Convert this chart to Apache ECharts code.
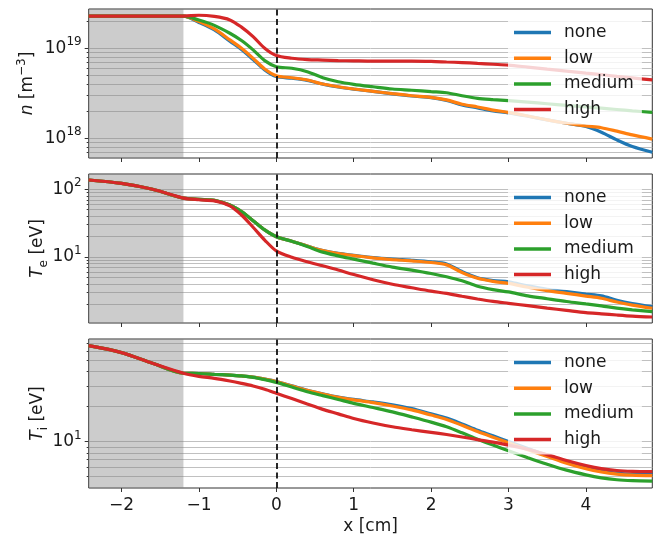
<!DOCTYPE html>
<html>
<head>
<meta charset="utf-8">
<script src="https://cdn.jsdelivr.net/npm/echarts@6/dist/echarts.min.js"></script>
<style>
  html, body { margin: 0; padding: 0; background: #fff; }
  #chart { width: 671px; height: 538px; }
</style>
</head>
<body>
<div id="chart"></div>
<script>
// sample positions along x [cm]
var xs = [-2.424, -2.0, -1.6, -1.2, -1.0, -0.8, -0.6, -0.45, -0.3, -0.15, 0, 0.2, 0.4, 0.6, 0.8, 1.0,
          1.25, 1.5, 1.75, 2.0, 2.2, 2.4, 2.6, 2.8, 3.0, 3.25, 3.5, 3.75, 4.0, 4.2, 4.4, 4.6, 4.858];

var names = ['none', 'low', 'medium', 'high'];
var colors = ['#1f77b4', '#ff7f0e', '#2ca02c', '#d62728'];

// density n [m^-3]
var nNone = [2.28e19, 2.28e19, 2.28e19, 2.28e19, 1.94e19, 1.6e19, 1.2e19, 9.7e18, 7.5e18, 5.75e18, 4.85e18, 4.65e18,
             4.4e18, 4.0e18, 3.72e18, 3.52e18, 3.32e18, 3.12e18, 2.95e18, 2.83e18, 2.64e18, 2.35e18, 2.18e18, 2.02e18,
             1.92e18, 1.76e18, 1.6e18, 1.47e18, 1.35e18, 1.17e18, 9.6e17, 8.1e17, 7.0e17];
var nLow = [2.28e19, 2.28e19, 2.28e19, 2.28e19, 1.98e19, 1.64e19, 1.24e19, 1.0e19, 7.74e18, 5.9e18, 4.96e18, 4.71e18,
            4.45e18, 4.01e18, 3.74e18, 3.53e18, 3.33e18, 3.13e18, 2.97e18, 2.85e18, 2.67e18, 2.39e18, 2.23e18, 2.06e18,
            1.94e18, 1.77e18, 1.6e18, 1.47e18, 1.37e18, 1.31e18, 1.2e18, 1.09e18, 9.8e17];
var nMedium = [2.28e19, 2.28e19, 2.28e19, 2.28e19, 2.06e19, 1.8e19, 1.47e19, 1.22e19, 9.6e18, 7.3e18, 6.25e18, 6.0e18,
               5.5e18, 4.71e18, 4.25e18, 3.98e18, 3.74e18, 3.53e18, 3.42e18, 3.3e18, 3.21e18, 2.97e18, 2.78e18, 2.69e18,
               2.62e18, 2.52e18, 2.42e18, 2.32e18, 2.23e18, 2.16e18, 2.09e18, 2.02e18, 1.94e18];
var nHigh = [2.28e19, 2.28e19, 2.28e19, 2.28e19, 2.33e19, 2.26e19, 2.07e19, 1.72e19, 1.35e19, 1.0e19, 8.3e18, 7.75e18,
             7.5e18, 7.4e18, 7.3e18, 7.25e18, 7.2e18, 7.2e18, 7.2e18, 7.15e18, 7.05e18, 6.95e18, 6.8e18, 6.65e18,
             6.5e18, 6.18e18, 5.87e18, 5.58e18, 5.3e18, 5.09e18, 4.88e18, 4.69e18, 4.45e18];

// electron temperature Te [eV]
var teNone = [137, 122, 100, 74, 71, 68.6, 58.6, 46.7, 34.4, 25.1, 19.9, 17.1, 14.5, 12.4, 11.3, 10.6, 9.8, 9.3, 8.95,
              8.5, 7.9, 6.1, 4.95, 4.5, 4.3, 3.74, 3.33, 3.08, 2.83, 2.66, 2.3, 2.06, 1.85];
var teLow = [137, 122, 100, 74, 71, 68.6, 58.6, 46.7, 34.4, 25.1, 19.9, 17.1, 14.5, 12.4, 11.2, 10.5, 9.7, 9.15, 8.75,
             8.3, 7.65, 5.9, 4.84, 4.37, 4.08, 3.57, 3.18, 2.91, 2.65, 2.46, 2.16, 1.95, 1.75];
var teMedium = [137, 122, 100, 74, 71, 68.6, 58.6, 46.7, 34.4, 25.1, 19.9, 17.1, 14.3, 11.8, 10.4, 9.3, 8.1, 7.1, 6.4,
                5.7, 5.1, 4.45, 3.7, 3.3, 3.05, 2.67, 2.42, 2.2, 2.03, 1.9, 1.76, 1.66, 1.56];
var teHigh = [137, 122, 100, 74, 70, 67.5, 57, 41.7, 27.5, 17.8, 12.3, 9.9, 8.5, 7.41, 6.43, 5.5, 4.62, 3.95, 3.51,
              3.13, 2.9, 2.63, 2.4, 2.21, 2.07, 1.91, 1.76, 1.63, 1.51, 1.45, 1.39, 1.34, 1.3];

// ion temperature Ti [eV]
var tiNone = [66.5, 58, 47, 38.6, 38.4, 37.8, 37.2, 36.6, 35.8, 34.4, 32.8, 30.1, 27.6, 25.7, 24.1, 23.0, 21.9, 20.7,
              19.2, 17.3, 15.9, 14.15, 12.5, 11.2, 10.0, 8.72, 7.63, 6.68, 5.98, 5.6, 5.36, 5.24, 5.2];
var tiLow = [66.5, 58, 47, 38.6, 38.4, 37.8, 37.2, 36.6, 35.8, 34.4, 32.7, 30.0, 27.5, 25.6, 24.0, 22.8, 21.6, 20.2,
             18.7, 16.9, 15.5, 13.8, 12.2, 10.9, 9.77, 8.51, 7.45, 6.53, 5.86, 5.5, 5.27, 5.15, 5.1];
var tiMedium = [66.5, 58, 47, 38.6, 38.4, 37.8, 37.2, 36.6, 35.6, 34.0, 32.2, 29.4, 26.8, 24.8, 23.0, 21.3, 19.6, 18.0,
                16.3, 14.7, 13.4, 11.9, 10.5, 9.33, 8.34, 7.28, 6.4, 5.69, 5.19, 4.89, 4.71, 4.63, 4.59];
var tiHigh = [66.5, 58, 47, 38.6, 36.3, 34.9, 33.1, 31.6, 30.0, 28.1, 26.0, 23.4, 21.0, 18.9, 17.3, 15.8, 14.45, 13.4,
              12.65, 12.0, 11.5, 10.96, 10.4, 9.9, 9.33, 8.6, 7.73, 6.89, 6.24, 5.86, 5.65, 5.56, 5.52];

// axes
var xRange = [-2.424, 4.858];
var shadeEnd = -1.2;
var xTicks = [-2, -1, 0, 1, 2, 3, 4];

var nRange = [6.04e17, 2.735e19];
var nMajor = [1e18, 1e19];
var nMinor = [7e17, 8e17, 9e17, 2e18, 3e18, 4e18, 5e18, 6e18, 7e18, 8e18, 9e18, 2e19];
var teRange = [1.06, 168];
var teMajor = [10, 100];
var teMinor = [2, 3, 4, 5, 6, 7, 8, 9, 20, 30, 40, 50, 60, 70, 80, 90];
var tiRange = [4.0, 75.9];
var tiMajor = [10];
var tiMinor = [5, 6, 7, 8, 9, 20, 30, 40, 50, 60, 70];

var font = 'DejaVu Sans';
var txt = '#1a1a1a';
var tops = [9, 174, 339];
var panelH = 149;

var panels = [
  { data: [nNone, nLow, nMedium, nHigh], range: nRange, major: nMajor, minor: nMinor,
    name: '{i|n} [m{sup|\u22123}]', nameGap: 49 },
  { data: [teNone, teLow, teMedium, teHigh], range: teRange, major: teMajor, minor: teMinor,
    name: '{i|T}{sub|e} [eV]', nameGap: 39 },
  { data: [tiNone, tiLow, tiMedium, tiHigh], range: tiRange, major: tiMajor, minor: tiMinor,
    name: '{i|T}{sub|i} [eV]', nameGap: 39 }
];

function lg(v) { return Math.log10(v); }

var grid = [], xAxis = [], yAxis = [], series = [], legend = [];

panels.forEach(function (p, i) {
  grid.push({
    left: 88.7, right: 18.7, top: tops[i], height: panelH,
    show: true, borderColor: '#333', borderWidth: 1, backgroundColor: 'transparent',
    outerBoundsMode: 'none'
  });

  xAxis.push({
    type: 'value', gridIndex: i, min: xRange[0], max: xRange[1],
    axisLine: { show: false, onZero: false },
    splitLine: { show: false },
    axisTick: { show: true, customValues: xTicks, length: 4, lineStyle: { color: '#333', width: 1 } },
    axisLabel: {
      show: i === 2, customValues: xTicks, margin: 8,
      fontSize: 17, lineHeight: 20, fontFamily: font, color: txt,
      formatter: function (v) { return String(v).replace('-', '\u2212'); }
    },
    name: i === 2 ? 'x [cm]' : '', nameLocation: 'middle', nameGap: 29, nameMoveOverlap: false,
    nameTextStyle: { fontSize: 17, lineHeight: 20, fontFamily: font, color: txt }
  });

  var lo = lg(p.range[0]), hi = lg(p.range[1]);
  // major ticks, labels and grid lines
  yAxis.push({
    type: 'value', gridIndex: i, position: 'left', min: lo, max: hi,
    axisLine: { show: false, onZero: false },
    axisTick: { show: true, customValues: p.major.map(lg), length: 4, lineStyle: { color: '#333', width: 1 } },
    axisLabel: {
      customValues: p.major.map(lg), margin: 7,
      formatter: function (v) { return '{b|10}{s|' + Math.round(v) + '}'; },
      rich: {
        b: { fontSize: 17, lineHeight: 24, fontFamily: font, color: txt },
        s: { fontSize: 12, lineHeight: 12, verticalAlign: 'top', fontFamily: font, color: txt }
      }
    },
    splitLine: { show: true, lineStyle: { color: '#c0c0c0', width: 1 } },
    name: p.name, nameLocation: 'middle', nameGap: p.nameGap, nameMoveOverlap: false,
    nameTextStyle: {
      fontSize: 17, lineHeight: 24, fontFamily: font, color: txt,
      rich: {
        i: { fontSize: 17, lineHeight: 24, fontStyle: 'italic', fontFamily: font, color: txt },
        sup: { fontSize: 12, lineHeight: 12, verticalAlign: 'top', fontFamily: font, color: txt },
        sub: { fontSize: 12, lineHeight: 12, verticalAlign: 'bottom', fontFamily: font, color: txt }
      }
    }
  });
  // minor ticks and grid lines
  yAxis.push({
    type: 'value', gridIndex: i, position: 'left', min: lo, max: hi,
    axisLine: { show: false, onZero: false },
    axisTick: { show: true, customValues: p.minor.map(lg), length: 2, lineStyle: { color: '#333', width: 1 } },
    axisLabel: { show: false },
    splitLine: { show: true, lineStyle: { color: '#c0c0c0', width: 1 } }
  });

  p.data.forEach(function (vals, k) {
    var s = {
      type: 'line', name: names[k], xAxisIndex: i, yAxisIndex: 2 * i,
      data: xs.map(function (x, j) { return [x, lg(vals[j])]; }),
      symbol: 'none', smooth: 0.3,
      lineStyle: { color: colors[k], width: 3.2 },
      itemStyle: { color: colors[k] },
      z: 2
    };
    if (k === 0) {
      s.markArea = {
        silent: true,
        itemStyle: { color: 'rgba(128,128,128,0.4)' },
        data: [[{ xAxis: xRange[0] }, { xAxis: shadeEnd }]]
      };
      s.markLine = {
        silent: true, symbol: ['none', 'none'], label: { show: false },
        lineStyle: { color: '#111', width: 1.8, type: [6, 3.5] },
        data: [{ xAxis: 0 }]
      };
    }
    series.push(s);
  });

  legend.push({
    left: 508, top: tops[i] + 8.5, orient: 'vertical', data: names,
    icon: 'rect', itemWidth: 37, itemHeight: 3.5, itemGap: 7.7,
    padding: [6, 8, 6, 6],
    backgroundColor: 'rgba(255,255,255,0.8)', borderWidth: 0,
    selectedMode: false,
    textStyle: { fontSize: 17, lineHeight: 18, fontFamily: font, color: txt, padding: [0, 0, 0, 8] }
  });
});

var chart = echarts.init(document.getElementById('chart'));
chart.setOption({
  animation: false,
  backgroundColor: '#fff',
  grid: grid,
  xAxis: xAxis,
  yAxis: yAxis,
  legend: legend,
  series: series
});
</script>
</body>
</html>
